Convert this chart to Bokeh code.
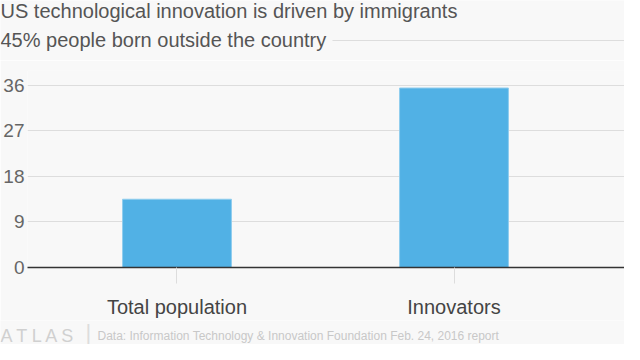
from bokeh.plotting import figure
from bokeh.layouts import column
from bokeh.models import Range1d, FixedTicker
from bokeh.core.properties import value
from bokeh.embed import file_html
from bokeh.resources import INLINE

categories = ["Total population", "Innovators"]
shares = [13.5, 35.5]
y_ticks = [0, 9, 18, 27, 36]
title_text = "US technological innovation is driven by immigrants"
subtitle_text = "45% people born outside the country"
brand_text = "A T L A S"
source_text = "Data: Information Technology & Innovation Foundation Feb. 24, 2016 report"

positions = list(range(len(categories)))

BG = "#f8f8f8"
FONT = "Liberation Sans"
W = 624
HEAD_H, MAIN_H, FOOT_H = 60, 260, 24


def blank_fig(h):
    f = figure(width=W, height=h, output_backend="svg", toolbar_location=None,
               x_axis_location=None, y_axis_location=None, frame_align=False,
               x_range=Range1d(0, W), y_range=Range1d(h, 0),
               min_border=0, min_border_left=0, min_border_right=0,
               min_border_top=0, min_border_bottom=0)
    f.grid.visible = False
    f.outline_line_color = None
    f.background_fill_color = BG
    f.border_fill_color = BG
    return f


# ---- header: title, subtitle and rule ----
head = blank_fig(HEAD_H)
head.text(x=[0], y=[10], text=[title_text], text_font=value(FONT),
          text_font_size="20px", text_color="#555555", text_baseline="middle")
head.text(x=[0], y=[39], text=[subtitle_text], text_font=value(FONT),
          text_font_size="20px", text_color="#555555", text_baseline="middle")
head.segment(x0=[332], y0=[40], x1=[W], y1=[40], line_color="#dddddd", line_width=1)

# ---- main chart ----
p = figure(width=W, height=MAIN_H, output_backend="svg", toolbar_location=None,
           frame_align=False,
           x_range=Range1d(-0.5397, 1.6155), y_range=Range1d(0, 38.967),
           min_border_left=27, min_border_right=0, min_border_top=10, min_border_bottom=53)
p.background_fill_color = BG
p.border_fill_color = BG
p.outline_line_color = None

p.vbar(x=positions, top=shares, width=0.393, fill_color="#51b1e5",
       line_color="#8fcdee", line_width=1)

p.xaxis.ticker = FixedTicker(ticks=positions)
p.xaxis.major_label_overrides = {i: c for i, c in enumerate(categories)}
p.xaxis.axis_line_color = "#333333"
p.xaxis.axis_line_width = 1.5
p.xaxis.major_tick_line_color = "#dddddd"
p.xaxis.major_tick_out = 16
p.xaxis.major_tick_in = 0
p.xaxis.minor_tick_line_color = None
p.xaxis.major_label_standoff = 12
p.xaxis.major_label_text_font = FONT
p.xaxis.major_label_text_font_size = "20px"
p.xaxis.major_label_text_color = "#444444"
p.xgrid.visible = False

p.yaxis.ticker = FixedTicker(ticks=y_ticks)
p.yaxis.axis_line_color = None
p.yaxis.major_tick_line_color = None
p.yaxis.minor_tick_line_color = None
p.yaxis.major_tick_out = 0
p.yaxis.major_tick_in = 0
p.yaxis.major_label_standoff = 3
p.yaxis.major_label_text_font = FONT
p.yaxis.major_label_text_font_size = "19px"
p.yaxis.major_label_text_color = "#666666"
p.ygrid.grid_line_color = "#dddddd"
p.ygrid.grid_line_width = 1

# ---- footer ----
foot = blank_fig(FOOT_H)
foot.text(x=[0], y=[15], text=[brand_text], text_font=value(FONT),
          text_font_size="18px", text_color="#d0d0d0", text_baseline="middle")
foot.text(x=[85], y=[24], text=["|"], text_font=value(FONT),
          text_font_size="22px", text_color="#dddddd", text_baseline="bottom")
foot.text(x=[97], y=[15], text=[source_text], text_font=value(FONT),
          text_font_size="12px", text_color="#c8c8c8", text_baseline="middle")

layout = column(head, p, foot, spacing=0)

open("out.html", "w").write(file_html(layout, INLINE))
